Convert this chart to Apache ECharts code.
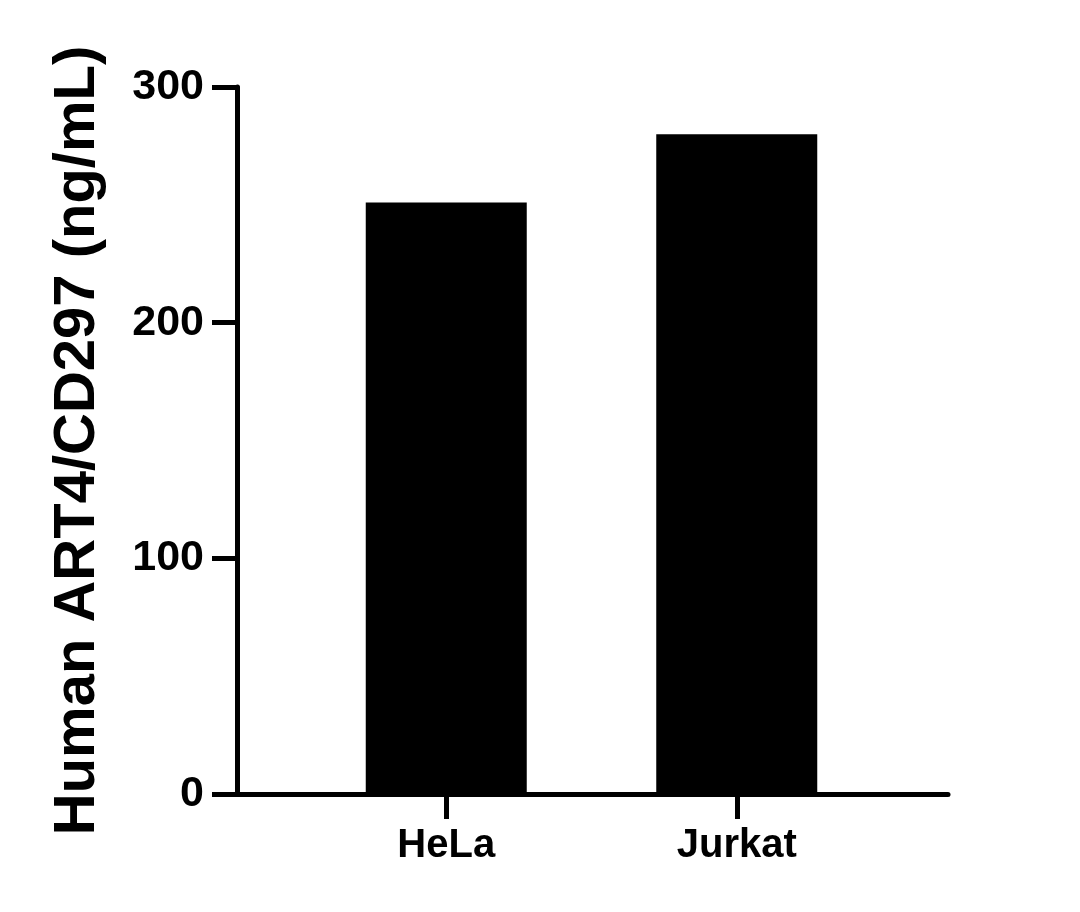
<!DOCTYPE html>
<html>
<head>
<meta charset="utf-8">
<script src="https://cdn.jsdelivr.net/npm/echarts@6/dist/echarts.min.js"></script>
<style>
  html, body { margin: 0; padding: 0; background: #fff; }
  #main { width: 1080px; height: 912px; }
</style>
</head>
<body>
<div id="main"></div>
<script>
// data
var categories = ['HeLa', 'Jurkat'];
var values = [251, 280];
var yTicks = [0, 100, 200, 300];

var fontFamily = '"Liberation Sans", Arial, sans-serif';

var chart = echarts.init(document.getElementById('main'), null, { renderer: 'canvas' });

chart.setOption({
    animation: false,
    backgroundColor: '#fff',
    grid: [
        // outer frame: y axis and full-width x axis line
        { left: 237, right: 132, top: 87, bottom: 118 },
        // inner band for the bars
        { left: 301, right: 198, top: 87, bottom: 118 }
    ],
    xAxis: [
        {
            gridIndex: 0,
            type: 'value',
            min: 0,
            max: 1,
            axisLine: { show: true, lineStyle: { color: '#000', width: 5 } },
            axisTick: { show: false },
            axisLabel: { show: false },
            splitLine: { show: false }
        },
        {
            gridIndex: 1,
            type: 'category',
            data: categories,
            axisLine: { show: false },
            axisTick: {
                show: true,
                alignWithLabel: true,
                length: 25,
                lineStyle: { color: '#000', width: 5 }
            },
            axisLabel: {
                color: '#000',
                fontSize: 40,
                fontWeight: 'bold',
                fontFamily: fontFamily,
                margin: 32
            },
            splitLine: { show: false }
        }
    ],
    yAxis: [
        {
            gridIndex: 0,
            type: 'value',
            min: yTicks[0],
            max: yTicks[yTicks.length - 1],
            interval: 100,
            name: 'Human ART4/CD297 (ng/mL)',
            nameLocation: 'middle',
            nameGap: 130,
            nameTextStyle: {
                color: '#000',
                fontSize: 58,
                fontWeight: 'bold',
                fontFamily: fontFamily
            },
            axisLine: { show: true, lineStyle: { color: '#000', width: 5 } },
            axisTick: { show: true, length: 25, lineStyle: { color: '#000', width: 5 } },
            axisLabel: {
                color: '#000',
                fontSize: 43,
                fontWeight: 'bold',
                fontFamily: fontFamily,
                margin: 33
            },
            splitLine: { show: false }
        },
        {
            gridIndex: 1,
            type: 'value',
            min: yTicks[0],
            max: yTicks[yTicks.length - 1],
            show: false
        }
    ],
    series: [{
        type: 'bar',
        xAxisIndex: 1,
        yAxisIndex: 1,
        data: values,
        barWidth: 161,
        itemStyle: { color: '#000' }
    }]
});
</script>
</body>
</html>
